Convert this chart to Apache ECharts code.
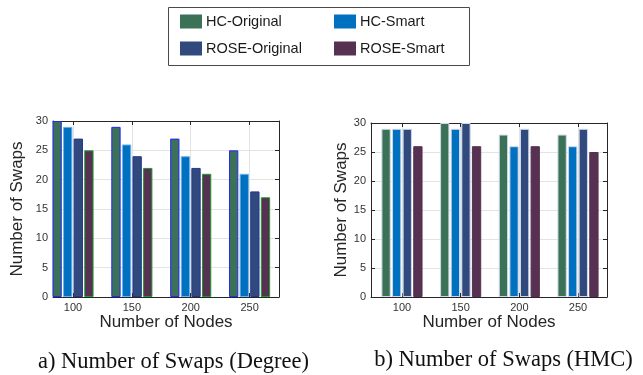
<!DOCTYPE html>
<html>
<head>
<meta charset="utf-8">
<script src="https://cdn.jsdelivr.net/npm/echarts@6/dist/echarts.min.js"></script>
<style>
  html, body { margin: 0; padding: 0; background: #fff; }
  #chart { width: 643px; height: 375px; }
</style>
</head>
<body>
<div id="chart"></div>
<script>
// Number of nodes on the x axis (shared by both panels)
const nodes = [100, 150, 200, 250];
const seriesNames = ['HC-Original', 'HC-Smart', 'ROSE-Original', 'ROSE-Smart'];

// Panel a) Number of swaps, Degree benchmark
const degreeHCOriginal = [30, 29, 27, 25];
const degreeHCSmart = [29, 26, 24, 21];
const degreeROSEOriginal = [27, 24, 22, 18];
const degreeROSESmart = [25, 22, 21, 17];

// Panel b) Number of swaps, HMC benchmark
const hmcHCOriginal = [29, 30, 28, 28];
const hmcHCSmart = [29, 29, 26, 26];
const hmcROSEOriginal = [29, 30, 29, 29];
const hmcROSESmart = [26, 26, 26, 25];

const colors = ['#3a7157', '#0070c0', '#304a7e', '#573152'];
const leftBorders = ['#2626ff', '#6fb2ec', '#24358f', '#1c9a2a'];
const rightBorders = ['#cdd8e8', '#cdd8e8', '#cdd8e8', '#573152'];

const font = 'Liberation Sans, Arial, sans-serif';
const serif = '"Liberation Serif", "Times New Roman", serif';
const axisColor = '#262626';
const gridColor = '#e3e3e3';

function pairs(values) {
  return values.map((v, i) => [nodes[i], v]);
}

function xAxes(gridIndex, min, max) {
  return [
    {
      type: 'value', gridIndex, min, max, position: 'bottom',
      name: 'Number of Nodes', nameLocation: 'middle', nameGap: 15,
      nameTextStyle: { fontFamily: font, fontSize: 17, color: '#262626' },
      axisLine: { show: true, onZero: false, lineStyle: { color: axisColor, width: 1 } },
      axisTick: { show: true, inside: true, length: 4, customValues: nodes, lineStyle: { color: axisColor } },
      axisLabel: { customValues: nodes, fontFamily: font, fontSize: 11, color: '#333', margin: 5 },
      splitLine: { show: true, lineStyle: { color: gridColor, width: 1 } }
    },
    {
      type: 'value', gridIndex, min, max, position: 'top',
      axisLine: { show: true, onZero: false, lineStyle: { color: axisColor, width: 1 } },
      axisTick: { show: true, inside: true, length: 4, customValues: nodes, lineStyle: { color: axisColor } },
      axisLabel: { show: false },
      splitLine: { show: false }
    }
  ];
}

function yAxes(gridIndex, nameGap) {
  return [
    {
      type: 'value', gridIndex, min: 0, max: 30, interval: 5, position: 'left',
      name: 'Number of Swaps', nameLocation: 'middle', nameGap,
      nameTextStyle: { fontFamily: font, fontSize: 17, color: '#262626' },
      axisLine: { show: true, onZero: false, lineStyle: { color: axisColor, width: 1 } },
      axisTick: { show: true, inside: true, length: 4, lineStyle: { color: axisColor } },
      axisLabel: { fontFamily: font, fontSize: 11, color: '#333', margin: 5 },
      splitLine: { show: true, lineStyle: { color: gridColor, width: 1 } }
    },
    {
      type: 'value', gridIndex, min: 0, max: 30, interval: 5, position: 'right',
      axisLine: { show: true, onZero: false, lineStyle: { color: axisColor, width: 1 } },
      axisTick: { show: true, inside: true, length: 4, lineStyle: { color: axisColor } },
      axisLabel: { show: false },
      splitLine: { show: false }
    }
  ];
}

function barSeries(name, values, idx, axisOffset, borders) {
  return {
    type: 'bar', name,
    xAxisIndex: axisOffset, yAxisIndex: axisOffset,
    data: pairs(values),
    barWidth: 9.3, barGap: '14%',
    itemStyle: { color: colors[idx], borderColor: borders[idx], borderWidth: 1 },
    emphasis: { disabled: true }
  };
}

const degreeSets = [degreeHCOriginal, degreeHCSmart, degreeROSEOriginal, degreeROSESmart];
const hmcSets = [hmcHCOriginal, hmcHCSmart, hmcROSEOriginal, hmcROSESmart];

const series = [];
seriesNames.forEach((n, i) => series.push(barSeries(n, degreeSets[i], i, 0, leftBorders)));
seriesNames.forEach((n, i) => series.push(barSeries(n, hmcSets[i], i, 2, rightBorders)));

// One legend entry per slot so the two columns line up
const legendSlots = [
  { name: 'HC-Original', left: 180, top: 14 },
  { name: 'HC-Smart', left: 334, top: 14 },
  { name: 'ROSE-Original', left: 180, top: 41 },
  { name: 'ROSE-Smart', left: 334, top: 41 }
];
const legends = legendSlots.map(s => ({
  data: [s.name], left: s.left, top: s.top, padding: 0,
  itemWidth: 22, itemHeight: 14, itemGap: 0, icon: 'rect',
  selectedMode: false,
  itemStyle: { borderWidth: 0 },
  textStyle: { fontFamily: font, fontSize: 14.5, color: '#1a1a1a', padding: [0, 0, 0, -1] }
}));

const chart = echarts.init(document.getElementById('chart'), null, { renderer: 'canvas' });
chart.setOption({
  animation: false,
  backgroundColor: '#fff',
  legend: legends,
  grid: [
    { left: 53, top: 121, width: 226, height: 176, containLabel: false },
    { left: 371, top: 123, width: 236, height: 174, containLabel: false }
  ],
  xAxis: [...xAxes(0, 83, 275), ...xAxes(1, 73.6, 274.7)],
  yAxis: [...yAxes(0, 27), ...yAxes(1, 14)],
  series,
  graphic: [
    {
      type: 'rect', left: 166, top: 5, silent: true,
      shape: { width: 301, height: 58 },
      style: { fill: 'none', stroke: '#4a4a4a', lineWidth: 1 }
    },
    {
      type: 'text', x: 173.5, y: 362, silent: true,
      style: { text: 'a) Number of Swaps (Degree)', align: 'center', verticalAlign: 'middle', font: '22.5px ' + serif, fill: '#111' }
    },
    {
      type: 'text', x: 503.5, y: 360, silent: true,
      style: { text: 'b) Number of Swaps (HMC)', align: 'center', verticalAlign: 'middle', font: '22.5px ' + serif, fill: '#111' }
    }
  ]
});
</script>
</body>
</html>
